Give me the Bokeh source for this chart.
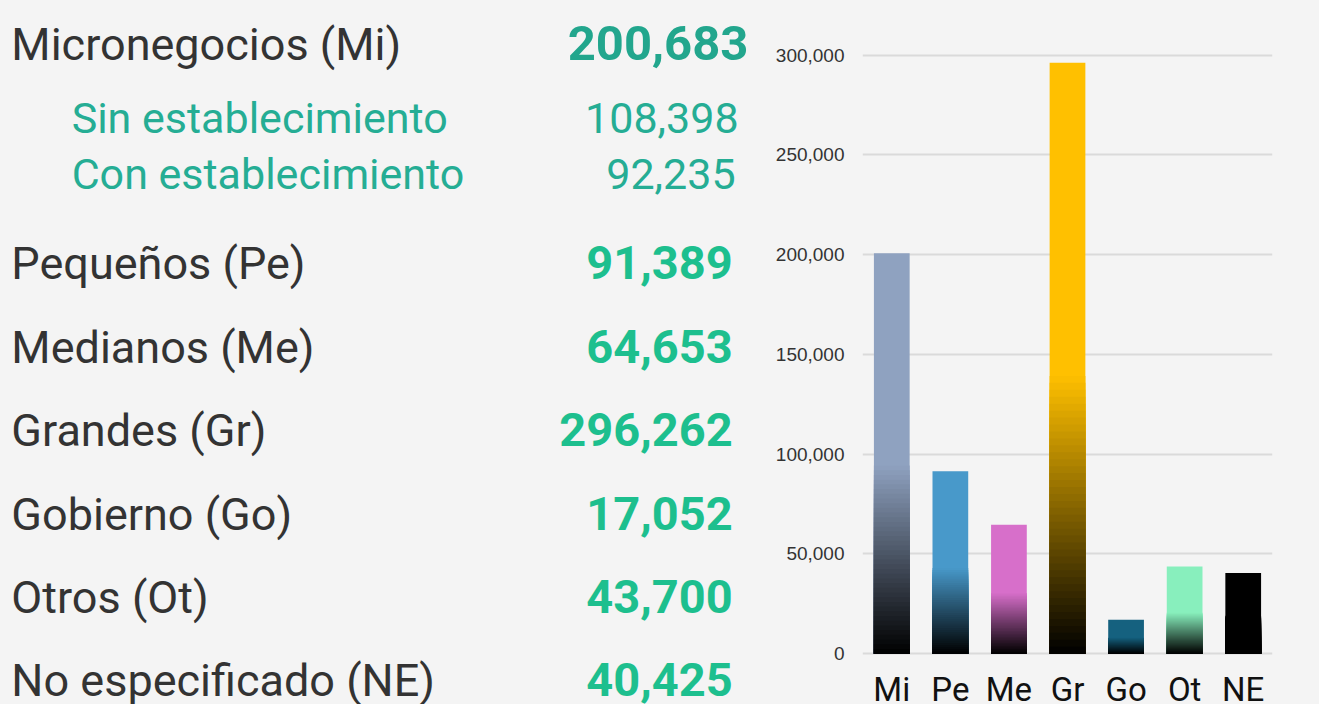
from bokeh.plotting import figure
from bokeh.layouts import row
from bokeh.models import Range1d, FactorRange, ColumnDataSource, NumeralTickFormatter, FixedTicker
from bokeh.core.properties import value
from bokeh.embed import file_html
from bokeh.resources import INLINE

# ---------------- data ----------------
categories = ["Mi", "Pe", "Me", "Gr", "Go", "Ot", "NE"]
names = ["Micronegocios (Mi)", "Pequeños (Pe)", "Medianos (Me)", "Grandes (Gr)",
         "Gobierno (Go)", "Otros (Ot)", "No especificado (NE)"]
totals = [200683, 91389, 64653, 296262, 17052, 43700, 40425]
sub_names = ["Sin establecimiento", "Con establecimiento"]
sub_totals = [108398, 92235]
bar_colors = ["#8fa2c0", "#4899ca", "#d76fca", "#ffc000", "#15617f", "#88efbd", "#000000"]
y_ticks = [0, 50000, 100000, 150000, 200000, 250000, 300000]

# ---------------- styles / layout ----------------
BG = "#f4f4f4"
LABEL_COL = "#333333"
MI_VAL_COL = "#22a68d"
SUB_COL = "#25ad94"
VAL_COL = "#1dbf8e"

W, H = 1319, 704
SX, SY = W / 1335, H / 720          # reference-layout -> canvas scale
WL = 772                            # width of the text panel
FRAME_L, FRAME_W = 862, 410         # bar-chart frame (canvas px)
ZERO_PX, TOP_PX = 668 * SY, 56 * SY  # canvas y of the 0 and 300,000 grid lines
CAT_BASE_PX = 702                    # canvas y of category label baseline
BASE_FIX = 0.38                      # svg text sits this many em below its anchor

row_y = [62, 286, 372, 457, 543, 628, 713]     # baselines (reference layout px)
sub_y = [137, 194]
name_x, sub_x = 11, 72
mi_val_x, val_x = 757, 741
sub_val_x = [747, 744]

# ---------------- left text panel ----------------
left = figure(width=WL, height=H, x_range=Range1d(0, WL / SX), y_range=Range1d(720, 0),
              x_axis_type=None, y_axis_type=None, toolbar_location=None,
              output_backend="svg", min_border=0, background_fill_color=BG,
              border_fill_color=BG, outline_line_color=None)


def add_text(xs_, ys_, texts, size, color, align, style="normal"):
    shift = BASE_FIX * size / SY
    left.text(x=xs_, y=[y - shift for y in ys_], text=texts, text_font=value("Roboto"),
              text_font_size=value(f"{size}px"), text_font_style=style, text_color=color,
              text_align=align, text_baseline="alphabetic")


add_text([name_x] * len(names), row_y, names, 45, LABEL_COL, "left")
add_text([mi_val_x], [row_y[0]], [f"{totals[0]:,}"], 49, MI_VAL_COL, "right", "bold")
add_text([val_x] * (len(totals) - 1), row_y[1:], [f"{v:,}" for v in totals[1:]],
         47, VAL_COL, "right", "bold")
add_text([sub_x] * len(sub_names), sub_y, sub_names, 43, SUB_COL, "left")
add_text(sub_val_x, sub_y, [f"{v:,}" for v in sub_totals], 43, SUB_COL, "right")

# ---------------- bar chart ----------------
ppu = (ZERO_PX - TOP_PX) / 300000.0          # canvas px per data unit
y_lo = -(H - ZERO_PX) / ppu
y_hi = ZERO_PX / ppu

right = figure(width=W - WL, height=H, x_range=FactorRange(factors=categories),
               y_range=Range1d(y_lo, y_hi), toolbar_location=None, output_backend="svg",
               min_border_left=FRAME_L - WL, min_border_right=W - FRAME_L - FRAME_W,
               min_border_top=0, min_border_bottom=0,
               background_fill_color=BG, border_fill_color=BG, outline_line_color=None)


def hex_rgb(h):
    h = h.lstrip("#")
    return tuple(int(h[i:i + 2], 16) for i in (0, 2, 4))


steps = 40
frac = 0.47  # share of each bar (from the bottom) that fades to black
xs, tops, cols = [], [], []
for cat, v, col in zip(categories, totals, bar_colors):
    r, g, b = hex_rgb(col)
    xs.append(cat); tops.append(v); cols.append(col)
    for k in range(steps, 0, -1):
        t = (k - 0.5) / steps
        xs.append(cat)
        tops.append(frac * v * k / steps)
        cols.append("#%02x%02x%02x" % (int(r * t), int(g * t), int(b * t)))

src = ColumnDataSource(dict(x=xs, top=tops, color=cols))
right.vbar(x="x", top="top", bottom=0, width=0.61, source=src,
           fill_color="color", line_color=None)

right.xgrid.grid_line_color = None
right.ygrid.grid_line_color = "#dadada"
right.ygrid.grid_line_width = 2
right.ygrid.ticker = FixedTicker(ticks=y_ticks)

yax = right.yaxis[0]
yax.ticker = FixedTicker(ticks=y_ticks)
yax.formatter = NumeralTickFormatter(format="0,0")
yax.axis_line_color = None
yax.major_tick_line_color = None
yax.minor_tick_line_color = None
yax.major_tick_in = 0
yax.major_tick_out = 0
yax.major_label_standoff = 18
yax.major_label_text_font = "Liberation Sans"
yax.major_label_text_font_size = "19px"
yax.major_label_text_color = "#333333"

right.xaxis.visible = False
cat_size = 33
cat_y = -(CAT_BASE_PX - BASE_FIX * cat_size - ZERO_PX) / ppu
right.text(x=categories, y=[cat_y] * len(categories), text=categories,
           text_font=value("Roboto"), text_font_size=value(f"{cat_size}px"),
           text_color="#111111", text_align="center", text_baseline="alphabetic")

p = row(left, right, styles={"background-color": BG})
open("out.html", "w").write(file_html(p, INLINE))
